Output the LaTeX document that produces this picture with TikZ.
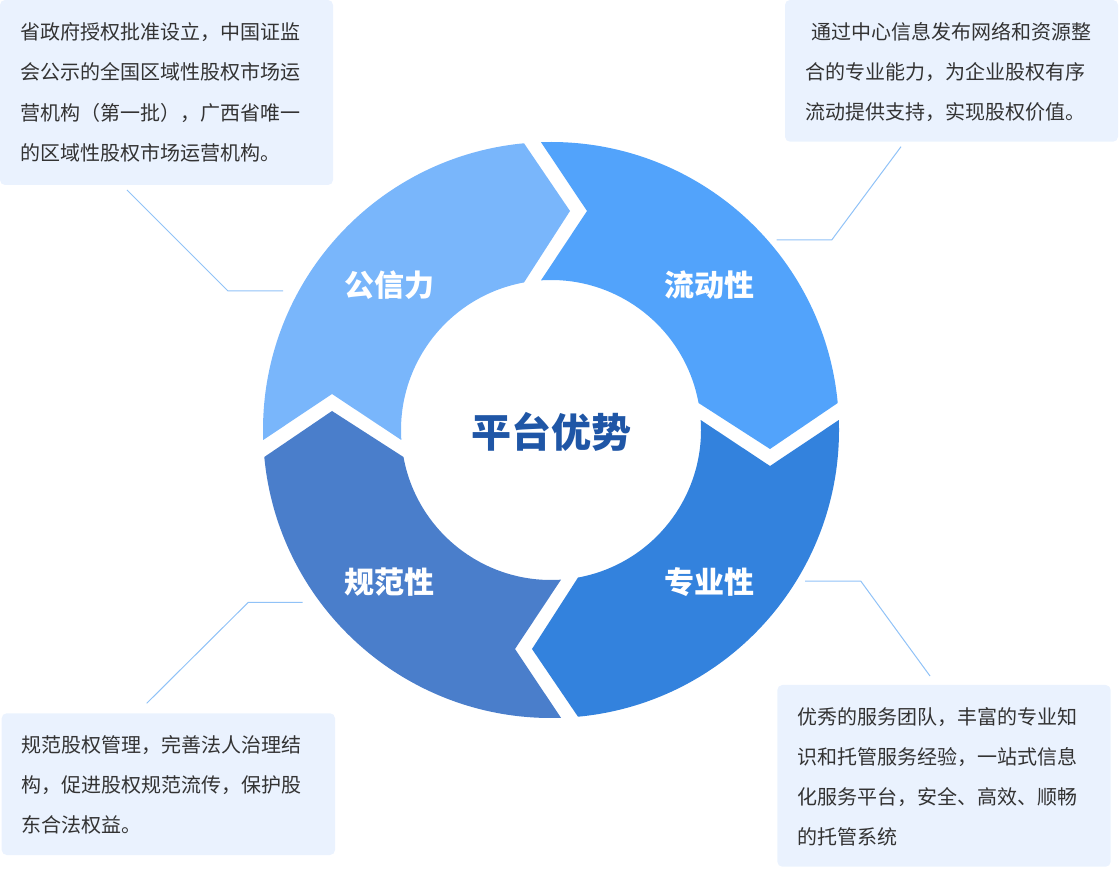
\documentclass[tikz,border=0pt]{standalone}
\usepackage{fontspec}
\newfontfamily\cjk{Noto Sans CJK SC}
\definecolor{segA}{HTML}{79B6FB}
\definecolor{segB}{HTML}{52A3FB}
\definecolor{segC}{HTML}{3382DD}
\definecolor{segD}{HTML}{4A7ECB}
\definecolor{boxbg}{HTML}{EAF2FE}
\definecolor{leadc}{HTML}{90C2F7}
\definecolor{txtgray}{HTML}{333333}
\definecolor{titleblue}{HTML}{1F56A6}
\newcommand{\ringseg}[2]{%
  \begin{scope}[shift={(551,438)}, rotate=#1]
    \fill[#2] (95.38:288) -- (19,219) -- (100.37:150)
      arc[start angle=100.37, end angle=183.82, radius=150]
      -- (-219,36) -- (181.99:288)
      arc[start angle=181.99, end angle=95.38, radius=288] -- cycle;
  \end{scope}}
\begin{document}
\begin{tikzpicture}[x=0.75pt,y=0.75pt,
  body/.style={font=\cjk\fontsize{15}{18}\selectfont, text=txtgray, inner sep=0pt, anchor=base west},
  lbl/.style={font=\cjk\bfseries\fontsize{22.5}{25}\selectfont, text=white, inner sep=0pt},
  title/.style={font=\cjk\bfseries\fontsize{30}{34}\selectfont, text=titleblue, inner sep=0pt},
  box/.style={fill=boxbg, rounded corners=3.75pt, inner sep=0pt},
  leader/.style={draw=leadc, line width=0.75pt}]
\useasboundingbox (0,0) rectangle (1119,868);

% ring segments
\ringseg{0}{segA}
\ringseg{-90}{segB}
\ringseg{-180}{segC}
\ringseg{90}{segD}

% labels
\node[title] (center) at (551,436) {平台优势};
\node[lbl] (gxl) at (389,582.5) {公信力};
\node[lbl] (ldx) at (709,582.5) {流动性};
\node[lbl] (gfx) at (389,286) {规范性};
\node[lbl] (zyx) at (709,286) {专业性};

% boxes
\node[box, minimum width=249.75pt, minimum height=138.75pt] (b1) at (166.5,775.5) {};
\node[box, minimum width=249.75pt, minimum height=106.3pt] (b2) at (951.5,797.15) {};
\node[box, minimum width=250pt, minimum height=106.3pt] (b3) at (168.35,83.85) {};
\node[box, minimum width=250pt, minimum height=136.3pt] (b4) at (944,92.15) {};

% box texts
\foreach \t [count=\i] in {省政府授权批准设立，中国证监,会公示的全国区域性股权市场运,营机构（第一批），广西省唯一,的区域性股权市场运营机构。}
  \node[body] (ta\i) at (20,{828.7-40.4*(\i-1)}) {\t};

\node[body] (tb1) at (811,828.7) {通过中心信息发布网络和资源整};
\node[body] (tb2) at (805,788.7) {合的专业能力，为企业股权有序};
\node[body] (tb3) at (805,748.7) {流动提供支持，实现股权价值。};

\foreach \t [count=\i] in {规范股权管理，完善法人治理结,构，促进股权规范流传，保护股,东合法权益。}
  \node[body] (tc\i) at (21,{115.4-40*(\i-1)}) {\t};

\foreach \t [count=\i] in {优秀的服务团队，丰富的专业知,识和托管服务经验，一站式信息,化服务平台，安全、高效、顺畅,的托管系统}
  \node[body] (td\i) at (797.5,{143.7-40*(\i-1)}) {\t};

% leader lines
\coordinate (l1a) at (127,678);   \coordinate (l1b) at (228,577);   \coordinate (l1c) at (283,577);
\coordinate (l2a) at (901,721.3); \coordinate (l2b) at (831.7,628); \coordinate (l2c) at (776.7,628);
\coordinate (l3a) at (146.7,164.7); \coordinate (l3b) at (248.3,265.7); \coordinate (l3c) at (302.7,265.7);
\coordinate (l4a) at (930,192);   \coordinate (l4b) at (860.7,287); \coordinate (l4c) at (805,287);
\draw[leader] (l1a) -- (l1b) -- (l1c);
\draw[leader] (l2a) -- (l2b) -- (l2c);
\draw[leader] (l3a) -- (l3b) -- (l3c);
\draw[leader] (l4a) -- (l4b) -- (l4c);
\end{tikzpicture}
\end{document}
